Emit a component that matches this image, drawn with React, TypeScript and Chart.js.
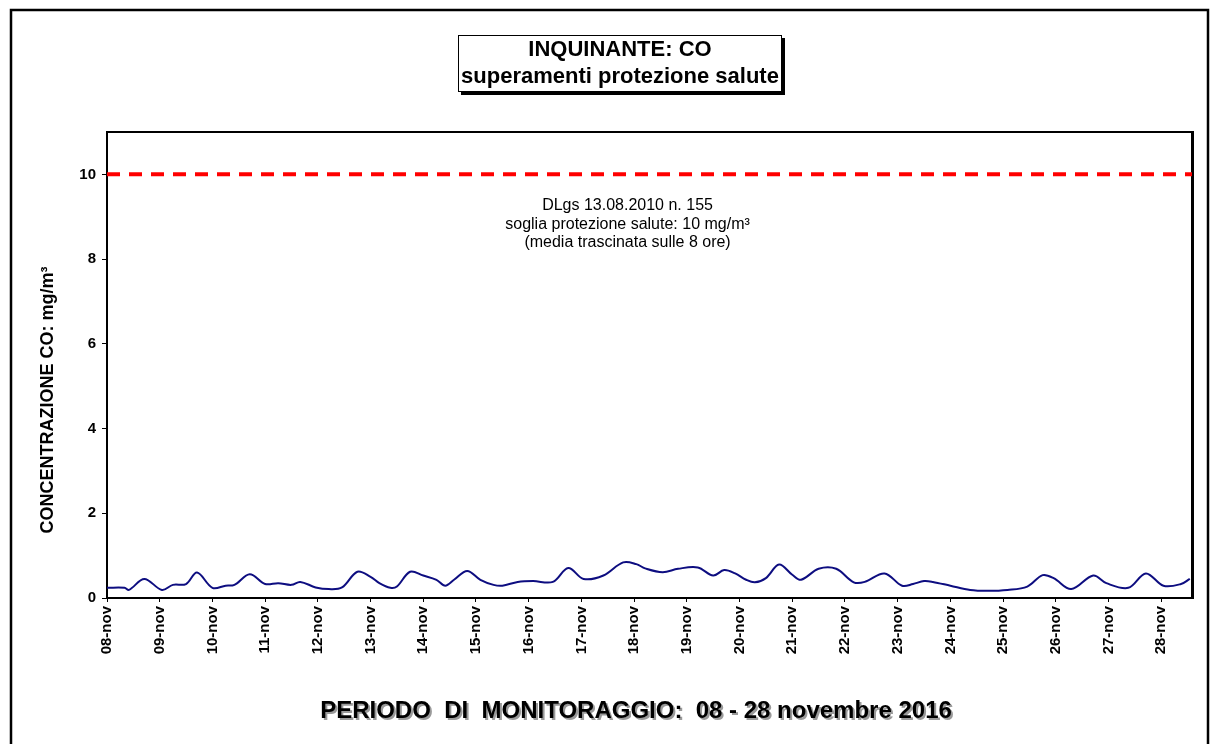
import React, { useEffect, useRef } from "react";
import { Chart, registerables } from "chart.js";

Chart.register(...registerables);

// day labels (one every 24 hours, starting 08-nov 00:00)
const dayLabels = [
  "08-nov", "09-nov", "10-nov", "11-nov", "12-nov", "13-nov", "14-nov",
  "15-nov", "16-nov", "17-nov", "18-nov", "19-nov", "20-nov", "21-nov",
  "22-nov", "23-nov", "24-nov", "25-nov", "26-nov", "27-nov", "28-nov",
];

// hours since 08-nov 00:00
const hours = [
  0, 8, 10, 17, 25, 30, 36, 41, 48, 54,
  58, 65, 72, 78, 84, 88, 95, 101, 107, 114,
  120, 124, 129, 132, 138, 144, 150, 154, 158, 164,
  170, 176, 180, 187, 194, 203, 210, 217, 226, 235,
  241, 245, 253, 260, 269, 276, 281, 286, 291, 295,
  300, 306, 312, 316, 324, 332, 340, 345, 354, 362,
  367, 372, 376, 384, 393, 401, 410, 419, 426, 431,
  439, 449, 455, 465, 473, 481, 489, 493,
];

// CO concentration, mg/m3 (8-hour running mean)
const coValues = [
  0.24, 0.24, 0.19, 0.45, 0.19, 0.31, 0.33, 0.60, 0.24, 0.29,
  0.31, 0.56, 0.33, 0.35, 0.31, 0.38, 0.25, 0.21, 0.25, 0.62,
  0.50, 0.35, 0.24, 0.27, 0.62, 0.53, 0.43, 0.29, 0.43, 0.64,
  0.43, 0.31, 0.29, 0.38, 0.40, 0.38, 0.71, 0.45, 0.53, 0.84,
  0.80, 0.70, 0.61, 0.69, 0.72, 0.53, 0.66, 0.58, 0.43, 0.37,
  0.47, 0.79, 0.55, 0.43, 0.69, 0.69, 0.37, 0.38, 0.58, 0.29,
  0.33, 0.40, 0.38, 0.29, 0.19, 0.17, 0.19, 0.27, 0.54, 0.47,
  0.21, 0.53, 0.35, 0.24, 0.58, 0.29, 0.33, 0.45,
];

const thresholdValue = 10;
const xMin = 0;
const xMax = 494;
const yMin = 0;
const yMax = 11;

const titleLines = ["INQUINANTE: CO", "superamenti protezione salute"];
const noteLines = [
  "DLgs 13.08.2010 n. 155",
  "soglia protezione salute: 10 mg/m³",
  "(media trascinata sulle 8 ore)",
];
const noteHour = 237;
const noteValues = [9.27, 8.82, 8.4];
const yTitle = "CONCENTRAZIONE CO: mg/m³";
const xTitle = "PERIODO  DI  MONITORAGGIO:  08 - 28 novembre 2016";

const FONT = "'Liberation Sans', Arial, Helvetica, sans-serif";

const decorPlugin = {
  id: "decor",
  beforeDatasetsDraw(chart: any) {
    const { ctx, chartArea: a } = chart;
    ctx.save();
    ctx.strokeStyle = "#000";
    ctx.lineWidth = 2;
    ctx.strokeRect(a.left, a.top, a.right - a.left, a.bottom - a.top);
    ctx.lineWidth = 3;
    ctx.beginPath();
    ctx.moveTo(a.right + 0.5, a.top - 1);
    ctx.lineTo(a.right + 0.5, a.bottom + 1);
    ctx.stroke();

    // annotation text
    const xs = chart.scales.x;
    const ys = chart.scales.y;
    ctx.fillStyle = "#000";
    ctx.font = `16px ${FONT}`;
    ctx.textAlign = "center";
    ctx.textBaseline = "middle";
    const cx = xs.getPixelForValue(noteHour);
    noteLines.forEach((t, i) => {
      ctx.fillText(t, cx, ys.getPixelForValue(noteValues[i]));
    });
    ctx.restore();
  },
  afterDraw(chart: any) {
    const { ctx } = chart;
    ctx.save();
    // outer frame
    ctx.strokeStyle = "#000";
    ctx.lineWidth = 2.5;
    ctx.strokeRect(11, 10, 1197, 800);

    // title box with shadow
    ctx.fillStyle = "#000";
    ctx.fillRect(461, 38, 324, 57);
    ctx.fillStyle = "#fff";
    ctx.fillRect(458, 35, 324, 57);
    ctx.lineWidth = 1;
    ctx.strokeRect(458.5, 35.5, 323, 56);
    ctx.fillStyle = "#000";
    ctx.font = `bold 22px ${FONT}`;
    ctx.textAlign = "center";
    ctx.textBaseline = "middle";
    ctx.fillText(titleLines[0], 620, 50);
    ctx.fillText(titleLines[1], 620, 77);

    // y title
    ctx.save();
    ctx.translate(48, 400);
    ctx.rotate(-Math.PI / 2);
    ctx.font = `bold 18px ${FONT}`;
    ctx.fillText(yTitle, 0, 0);
    ctx.restore();

    // x title with light shadow
    ctx.font = `bold 24px ${FONT}`;
    ctx.fillStyle = "#9a9a9a";
    ctx.fillText(xTitle, 638, 713);
    ctx.fillStyle = "#000";
    ctx.fillText(xTitle, 636, 711);
    ctx.restore();
  },
};

export default function App() {
  const canvasRef = useRef<HTMLCanvasElement | null>(null);

  useEffect(() => {
    const canvas = canvasRef.current;
    if (!canvas) return;
    const lineData = hours.map((h, i) => ({ x: h, y: coValues[i] }));
    const thrData = [
      { x: xMin, y: thresholdValue },
      { x: xMax, y: thresholdValue },
    ];
    const chart = new Chart(canvas, {
      type: "line",
      data: {
        datasets: [
          {
            label: "soglia",
            data: thrData,
            borderColor: "#ff0000",
            borderWidth: 4,
            borderDash: [13, 9],
            pointRadius: 0,
            fill: false,
            clip: 4,
          },
          {
            label: "CO",
            data: lineData,
            borderColor: "#0d0d80",
            borderWidth: 2,
            pointRadius: 0,
            tension: 0.35,
            fill: false,
          },
        ],
      },
      options: {
        responsive: false,
        animation: false,
        events: [],
        layout: { padding: { top: 132, right: 21, left: 0, bottom: 0 } },
        plugins: {
          legend: { display: false },
          tooltip: { enabled: false },
          title: { display: false },
        },
        scales: {
          x: {
            type: "linear",
            min: xMin,
            max: xMax,
            afterFit: (s: any) => {
              s.height = 146;
            },
            border: { display: false },
            grid: {
              display: true,
              drawOnChartArea: false,
              drawTicks: true,
              tickLength: 4,
              color: "#000",
            },
            ticks: {
              stepSize: 24,
              includeBounds: false,
              autoSkip: false,
              maxRotation: 90,
              minRotation: 90,
              padding: 4,
              color: "#000",
              font: { family: FONT, size: 15, weight: "bold" },
              callback: (v: any) => {
                const i = Math.round(Number(v) / 24);
                return Number(v) % 24 === 0 && dayLabels[i] ? dayLabels[i] : "";
              },
            },
          },
          y: {
            type: "linear",
            min: yMin,
            max: yMax,
            afterFit: (s: any) => {
              s.width = 107;
            },
            border: { display: false },
            grid: {
              display: true,
              drawOnChartArea: false,
              drawTicks: true,
              tickLength: 5,
              color: "#000",
            },
            ticks: {
              stepSize: 2,
              includeBounds: false,
              padding: 6,
              color: "#000",
              font: { family: FONT, size: 15, weight: "bold" },
            },
          },
        },
      },
      plugins: [decorPlugin],
    } as any);
    return () => chart.destroy();
  }, []);

  return (
    <div style={{ position: "absolute", left: 0, top: 0, width: 1213, height: 744, background: "#fff" }}>
      <canvas ref={canvasRef} width={1213} height={744} style={{ display: "block" }} />
    </div>
  );
}
